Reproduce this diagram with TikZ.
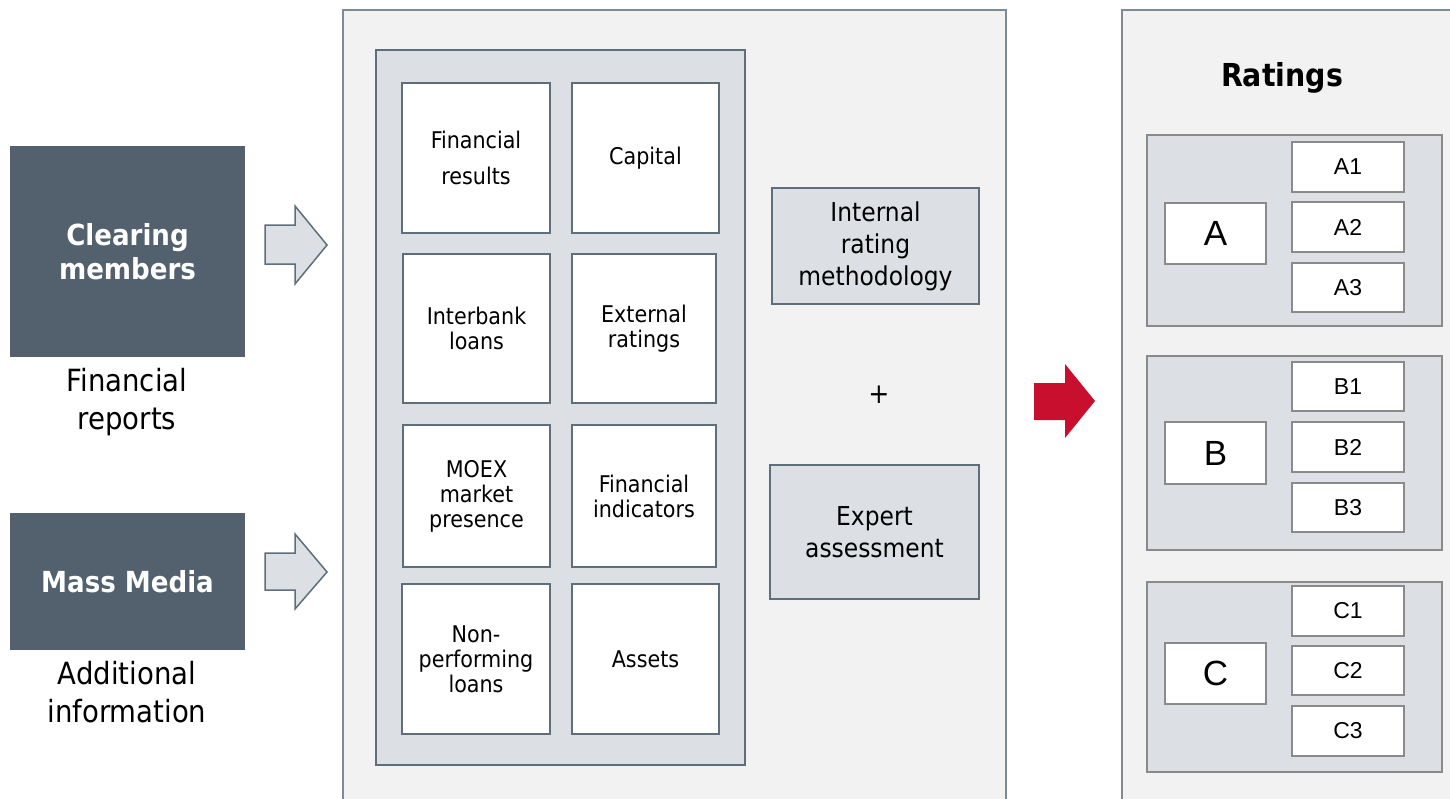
\documentclass[tikz,border=0pt]{standalone}
\usepackage{fontspec}
\setmainfont{DejaVu Sans Condensed}[BoldFont={DejaVu Sans Condensed Bold}]
\newfontfamily\arialfont{Liberation Sans}

\definecolor{slate}{HTML}{52616D}
\definecolor{panelfill}{HTML}{F2F2F2}
\definecolor{cellfill}{HTML}{DCE0E4}
\definecolor{edge}{HTML}{5E6E7B}
\definecolor{paneledge}{HTML}{7D8B96}
\definecolor{rateedge}{HTML}{8A8A8A}
\definecolor{accent}{HTML}{C8102E}

\tikzset{
  sized/.style 2 args={minimum width=#1pt, minimum height=#2pt},
  panel/.style={draw=paneledge, fill=panelfill, line width=1pt, inner sep=0pt},
  innerpanel/.style={draw=edge, fill=cellfill, line width=1pt, inner sep=0pt},
  source/.style={fill=slate, draw=none, inner sep=0pt, text=white, align=center,
    font=\bfseries\fontsize{14.5}{17}\selectfont},
  caption/.style={align=center, inner sep=0pt, font=\fontsize{15.3}{19}\selectfont},
  factor/.style={draw=edge, fill=white, line width=1pt, inner sep=0pt, align=center,
    font=\fontsize{11.5}{12.5}\selectfont},
  method/.style={draw=edge, fill=cellfill, line width=1pt, inner sep=0pt, align=center,
    font=\fontsize{13}{16}\selectfont},
  group/.style={draw=rateedge, fill=cellfill, line width=1pt, inner sep=0pt},
  grade/.style={draw=rateedge, fill=white, line width=1pt, inner sep=0pt,
    font=\arialfont\fontsize{17.5}{20}\selectfont},
  subgrade/.style={grade, font=\arialfont\fontsize{11.5}{13}\selectfont},
  blockarrow/.style={draw=edge, fill=cellfill, line width=0.75pt, line join=miter},
}

\begin{document}
\begin{tikzpicture}[x=0.5pt,y=-0.5pt]
\useasboundingbox (0,0) rectangle (1450,798);
\fill[white] (0,0) rectangle (1450,798);

% sources of information
\node[source, sized={117.5}{105.5}] (clearing) at (127.5,251.5) {Clearing\\members};
\node[caption] (reports) at (127,402) {Financial\\reports};
\node[source, sized={117.5}{68.5}] (media) at (127.5,581.5) {Mass Media};
\node[caption] (addinfo) at (127,692) {Additional\\information};

% input arrows
\draw[blockarrow] (265,225) -- (295,225) -- (295,206) -- (327,245) -- (295,284)
  -- (295,264) -- (265,264) -- cycle;
\draw[blockarrow] (265,553) -- (295,553) -- (295,534) -- (327,572) -- (295,609)
  -- (295,590) -- (265,590) -- cycle;

% assessment panel
\node[panel, sized={331.5}{401}] (assess) at (674.5,411) {};
\node[innerpanel, sized={184.5}{357.5}] (factors) at (560.5,407.5) {};

\node[factor, sized={74}{75}, font=\fontsize{11.5}{18}\selectfont] (finres) at (476,158) {Financial\\results};
\node[factor, sized={73.5}{75}] (capital) at (645.5,158) {Capital};
\node[factor, sized={73.5}{74.5}] (interbank) at (476.5,328.5) {Interbank\\loans};
\node[factor, sized={72}{74.5}] (extrat) at (644,328.5) {External\\ratings};
\node[factor, sized={73.5}{71}] (moex) at (476.5,496) {MOEX\\market\\presence};
\node[factor, sized={72}{71}] (finind) at (644,496) {Financial\\indicators};
\node[factor, sized={74}{75}] (npl) at (476,659) {Non-\\performing\\loans};
\node[factor, sized={73.5}{75}] (assets) at (645.5,659) {Assets};

\node[method, sized={103.5}{58}] (internal) at (875.5,246) {Internal\\rating\\methodology};
\node[font=\fontsize{14}{16}\selectfont, inner sep=0pt] (plus) at (879,395) {+};
\node[method, sized={104.5}{67}] (expert) at (874.5,532) {Expert\\assessment};

% result arrow
\fill[accent] (1034,383) -- (1065,383) -- (1065,364) -- (1095,401) -- (1065,438)
  -- (1065,420) -- (1034,420) -- cycle;

% ratings panel
\node[panel, sized={170}{401}] (ratings) at (1292,411) {};
\node[font=\bfseries\fontsize{15.8}{18}\selectfont, inner sep=0pt] (rtitle) at (1282,78) {Ratings};

\node[group, sized={147.5}{95.5}] (groupA) at (1294.5,230.5) {};
\node[grade, sized={50.5}{30.5}] (gA) at (1215.5,233.5) {A};
\node[subgrade, sized={56}{25}] (gA1) at (1348,167) {A1};
\node[subgrade, sized={56}{25}] (gA2) at (1348,227) {A2};
\node[subgrade, sized={56}{24.5}] (gA3) at (1348,287.5) {A3};

\node[group, sized={147.5}{97}] (groupB) at (1294.5,453) {};
\node[grade, sized={50.5}{31}] (gB) at (1215.5,453) {B};
\node[subgrade, sized={56}{24.5}] (gB1) at (1348,386.5) {B1};
\node[subgrade, sized={56}{25}] (gB2) at (1348,447) {B2};
\node[subgrade, sized={56}{24.5}] (gB3) at (1348,507.5) {B3};

\node[group, sized={147.5}{95}] (groupC) at (1294.5,677) {};
\node[grade, sized={50.5}{30.5}] (gC) at (1215.5,673.5) {C};
\node[subgrade, sized={56}{25}] (gC1) at (1348,611) {C1};
\node[subgrade, sized={56}{24.5}] (gC2) at (1348,670.5) {C2};
\node[subgrade, sized={56}{25}] (gC3) at (1348,731) {C3};
\end{tikzpicture}
\end{document}
